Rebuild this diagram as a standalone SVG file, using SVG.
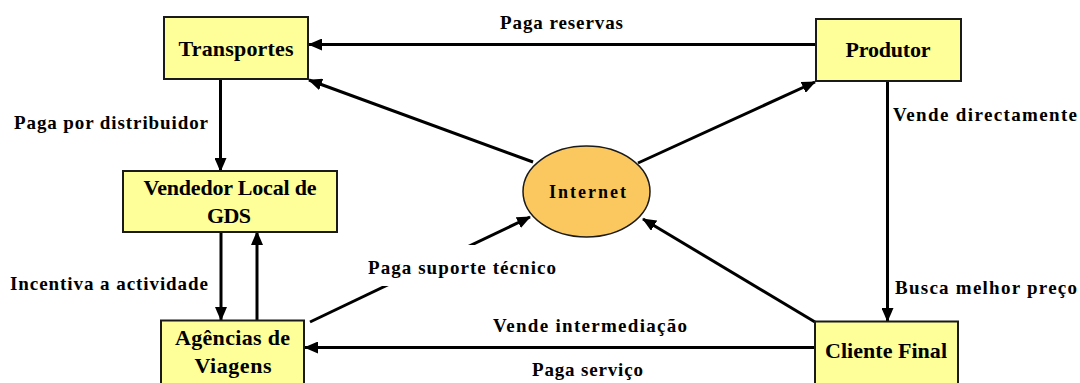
<svg xmlns="http://www.w3.org/2000/svg" width="1080" height="383" viewBox="0 0 1080 383">
<style>
  .box { fill: #FFFF99; stroke: #1a1a1a; stroke-width: 2; }
  .oval { fill: #FBC860; stroke: #1a1a1a; stroke-width: 1.5; }
  .nt { font-size: 22px; text-anchor: middle; }
  .it { font-size: 18px; text-anchor: middle; }
  .lt { font-size: 19px; }
  .ln { stroke: #000; stroke-width: 3; fill: none; marker-end: url(#ah); }
</style>
<defs>
  <marker id="ah" markerUnits="userSpaceOnUse" markerWidth="14" markerHeight="12" refX="13" refY="6" orient="auto">
    <path d="M0,0 L14,6 L0,12 Z" fill="#000"/>
  </marker>
</defs>
<rect width="1080" height="383" fill="#fff"/>

<g id="connectors">
  <line class="ln" x1="816" y1="44.5" x2="309" y2="44.5"/>
  <line class="ln" x1="220.5" y1="79" x2="220.5" y2="171"/>
  <line class="ln" x1="533" y1="162" x2="309" y2="80"/>
  <line class="ln" x1="638" y1="163" x2="815" y2="82"/>
  <line class="ln" x1="887.5" y1="81" x2="887.5" y2="321"/>
  <line class="ln" x1="815" y1="322" x2="643" y2="219"/>
  <line class="ln" x1="221" y1="232" x2="221" y2="320"/>
  <line class="ln" x1="257" y1="320" x2="257" y2="232"/>
  <line class="ln" x1="310" y1="322" x2="530" y2="217"/>
  <line class="ln" x1="815" y1="347.5" x2="305" y2="347.5"/>
</g>

<g id="labels" font-family="Liberation Serif, serif" font-weight="bold" fill="#000">
  <rect x="360" y="245" width="257" height="41" fill="#fff"/>
  <text class="lt" x="500" y="29" textLength="123">Paga reservas</text>
  <text class="lt" x="14" y="129" textLength="194">Paga por distribuidor</text>
  <text class="lt" x="893" y="120.5" textLength="184">Vende directamente</text>
  <text class="lt" x="10" y="290" textLength="198">Incentiva a actividade</text>
  <text class="lt" x="368" y="274" textLength="188">Paga suporte técnico</text>
  <text class="lt" x="895" y="294" textLength="182">Busca melhor preço</text>
  <text class="lt" x="493" y="331.5" textLength="194">Vende intermediação</text>
  <text class="lt" x="532" y="376" textLength="111">Paga serviço</text>
</g>

<g font-family="Liberation Serif, serif" font-weight="bold" fill="#000">
<g id="node-transportes">
  <rect class="box" x="164" y="17" width="144" height="62"/>
  <text class="nt" x="236" y="56" textLength="115">Transportes</text>
</g>
<g id="node-produtor">
  <rect class="box" x="816" y="19" width="145" height="62"/>
  <text class="nt" x="888" y="57" textLength="85">Produtor</text>
</g>
<g id="node-vendedor">
  <rect class="box" x="123" y="171" width="214" height="61"/>
  <text class="nt" x="230" y="195" textLength="173">Vendedor Local de</text>
  <text class="nt" x="229" y="223" textLength="44">GDS</text>
</g>
<g id="node-agencias">
  <rect class="box" x="161" y="320.5" width="143" height="66"/>
  <text class="nt" x="232.5" y="345" textLength="115">Agências de</text>
  <text class="nt" x="233" y="373" textLength="77">Viagens</text>
</g>
<g id="node-cliente">
  <rect class="box" x="815" y="321.5" width="143" height="65"/>
  <text class="nt" x="886" y="358" textLength="122">Cliente Final</text>
</g>
<g id="node-internet">
  <ellipse class="oval" cx="586.5" cy="191.5" rx="63.5" ry="45.5"/>
  <text class="it" x="587.5" y="198" textLength="77">Internet</text>
</g>
</g>
</svg>
